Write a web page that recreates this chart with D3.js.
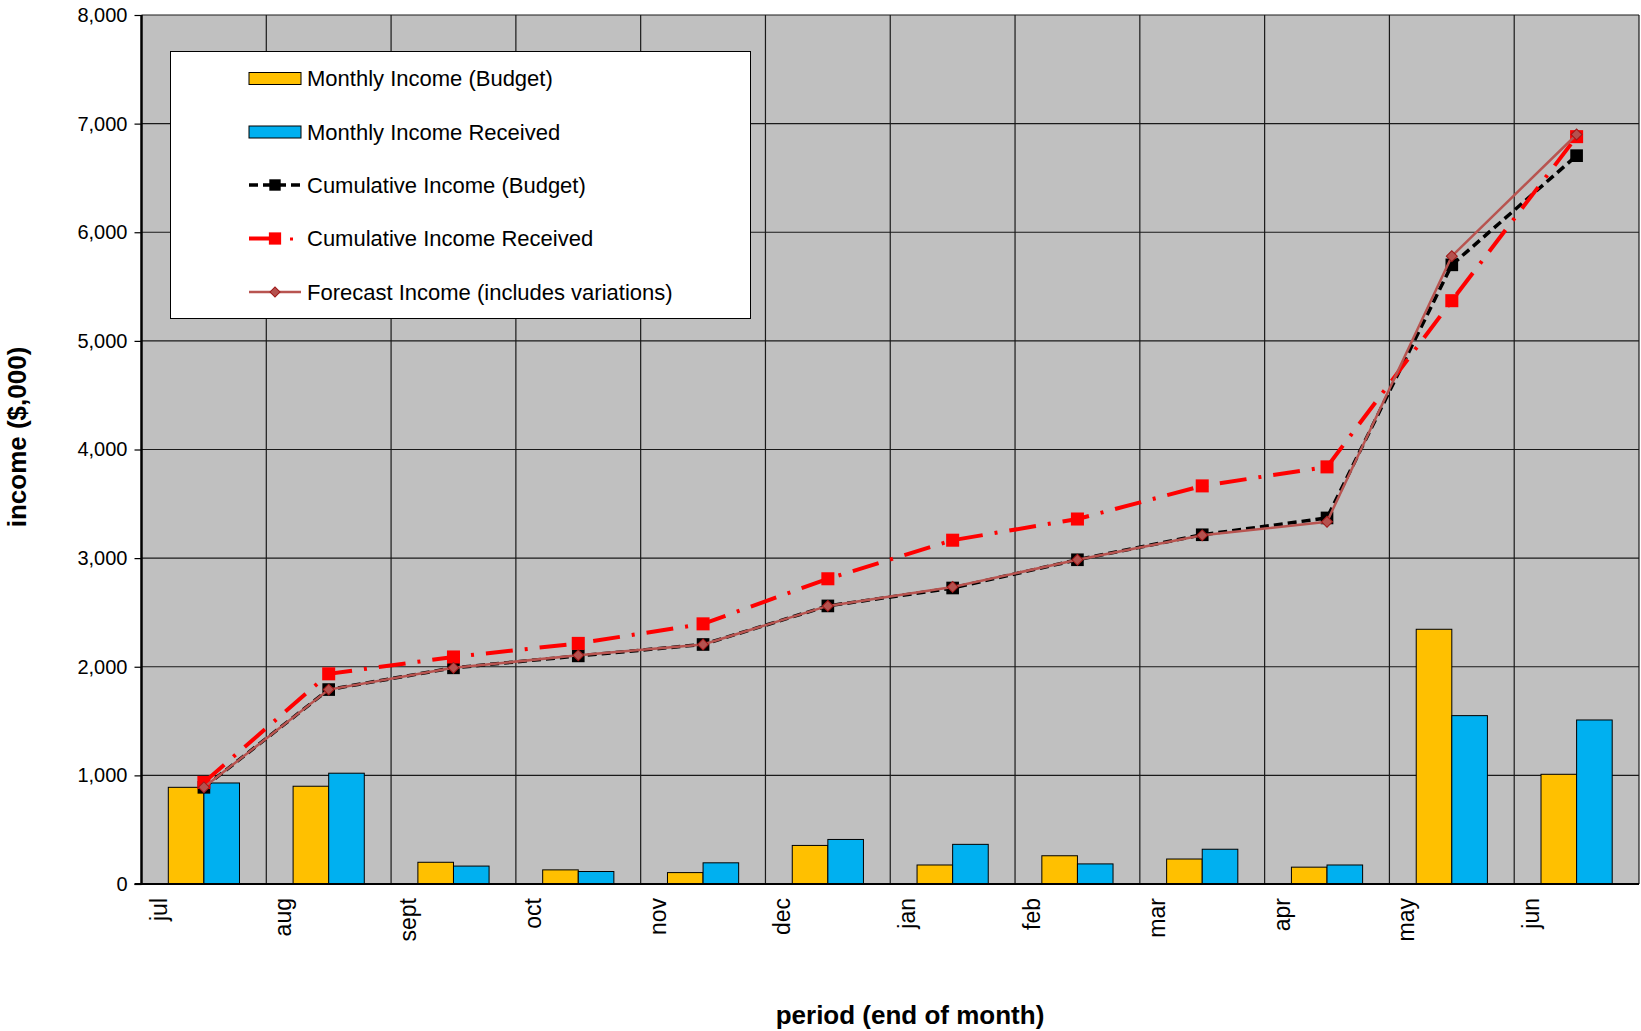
<!DOCTYPE html>
<html>
<head>
<meta charset="utf-8">
<script src="https://cdn.jsdelivr.net/npm/d3@7"></script>
<style>
  body { margin: 0; background: #fff; }
  svg text { font-family: "Liberation Sans", Arial, sans-serif; fill: #000; }
</style>
</head>
<body>
<div id="chart"></div>
<script>
// chart values, in $,000
var months = ["jul", "aug", "sept", "oct", "nov", "dec", "jan", "feb", "mar", "apr", "may", "jun"];
var monthlyBudget = [890, 900, 200, 130, 105, 355, 175, 260, 230, 155, 2345, 1010];
var monthlyReceived = [930, 1020, 165, 115, 195, 410, 365, 185, 320, 175, 1550, 1510];
var cumBudget = [890, 1790, 1990, 2100, 2205, 2560, 2725, 2985, 3215, 3370, 5700, 6705];
var cumReceived = [935, 1935, 2090, 2215, 2395, 2810, 3165, 3360, 3665, 3840, 5370, 6880];
var forecast = [890, 1790, 1990, 2105, 2205, 2560, 2735, 2985, 3210, 3335, 5780, 6900];
var yTicks = [0, 1000, 2000, 3000, 4000, 5000, 6000, 7000, 8000];
var legendLabels = ["Monthly Income (Budget)", "Monthly Income Received", "Cumulative Income (Budget)",
                    "Cumulative Income Received", "Forecast Income (includes variations)"];

var width = 1641, height = 1031;
var pLeft = 141.5, pRight = 1639, pTop = 15, pBottom = 884;

var svg = d3.select("#chart").append("svg")
    .attr("width", width)
    .attr("height", height);

var x = d3.scaleBand().domain(months).range([pLeft, pRight]).padding(0);
var xSub = d3.scaleBand().domain(["budget", "received"])
    .range([0, x.bandwidth()]).paddingInner(0).paddingOuter(0.753);
var y = d3.scaleLinear().domain([0, 8000]).range([pBottom, pTop]);
var cx = function(d, i) { return x(months[i]) + x.bandwidth() / 2; };

// plot background
svg.append("rect")
    .attr("x", pLeft).attr("y", pTop)
    .attr("width", pRight - pLeft).attr("height", pBottom - pTop)
    .attr("fill", "#c0c0c0");

// grid
var grid = svg.append("g").attr("stroke", "#1a1a1a").attr("stroke-width", 1.2);
grid.selectAll(".hg").data(yTicks.slice(1)).enter().append("line")
    .attr("x1", pLeft).attr("x2", pRight)
    .attr("y1", d => y(d)).attr("y2", d => y(d));
grid.selectAll(".vg").data(months.slice(1)).enter().append("line")
    .attr("x1", d => x(d)).attr("x2", d => x(d))
    .attr("y1", pTop).attr("y2", pBottom);
grid.append("line").attr("x1", pRight).attr("x2", pRight).attr("y1", pTop).attr("y2", pBottom);

// bars
var bars = svg.append("g").attr("stroke", "#000").attr("stroke-width", 1);
bars.selectAll(".b").data(monthlyBudget).enter().append("rect")
    .attr("x", (d, i) => x(months[i]) + xSub("budget"))
    .attr("width", xSub.bandwidth())
    .attr("y", d => y(d)).attr("height", d => pBottom - y(d))
    .attr("fill", "#ffc000");
bars.selectAll(".r").data(monthlyReceived).enter().append("rect")
    .attr("x", (d, i) => x(months[i]) + xSub("received"))
    .attr("width", xSub.bandwidth())
    .attr("y", d => y(d)).attr("height", d => pBottom - y(d))
    .attr("fill", "#00b0f0");

// y axis
var yAxis = svg.append("g")
    .attr("transform", "translate(" + pLeft + ",0)")
    .call(d3.axisLeft(y).tickValues(yTicks).tickFormat(d3.format(",")).tickSize(7).tickPadding(7));
yAxis.select(".domain").attr("stroke", "#000").attr("stroke-width", 2.5).attr("d", "M0," + pTop + "V" + pBottom);
yAxis.selectAll(".tick line").attr("stroke", "#000").attr("stroke-width", 1.2);
yAxis.selectAll("text").attr("font-size", 20).attr("font-family", "Liberation Sans, Arial");

// x axis
svg.append("line").attr("x1", pLeft - 7).attr("x2", pRight)
    .attr("y1", pBottom).attr("y2", pBottom)
    .attr("stroke", "#000").attr("stroke-width", 2);
svg.append("g").selectAll("text").data(months).enter().append("text")
    .attr("transform", d => "translate(" + (x(d) + 17) + "," + (pBottom + 14) + ") rotate(-90)")
    .attr("text-anchor", "end")
    .attr("dominant-baseline", "central")
    .attr("font-size", 23)
    .text(d => d);

// axis titles
svg.append("text")
    .attr("transform", "translate(17,437) rotate(-90)")
    .attr("text-anchor", "middle")
    .attr("dominant-baseline", "central")
    .attr("font-size", 26).attr("font-weight", "bold")
    .text("income ($,000)");
svg.append("text")
    .attr("x", 910).attr("y", 1024)
    .attr("text-anchor", "middle")
    .attr("font-size", 26).attr("font-weight", "bold")
    .text("period (end of month)");

// lines
var line = d3.line().x(cx).y(d => y(d));
var square = d3.symbol().type(d3.symbolSquare);

svg.append("path").datum(cumBudget)
    .attr("d", line).attr("fill", "none")
    .attr("stroke", "#000").attr("stroke-width", 3.5).attr("stroke-dasharray", "9,5");
svg.append("g").selectAll("path").data(cumBudget).enter().append("path")
    .attr("d", square.size(160))
    .attr("transform", (d, i) => "translate(" + cx(d, i) + "," + y(d) + ")")
    .attr("fill", "#000");

svg.append("path").datum(cumReceived)
    .attr("d", line).attr("fill", "none")
    .attr("stroke", "#ff0000").attr("stroke-width", 4).attr("stroke-dasharray", "27,12,3,12");
svg.append("g").selectAll("path").data(cumReceived).enter().append("path")
    .attr("d", square.size(170))
    .attr("transform", (d, i) => "translate(" + cx(d, i) + "," + y(d) + ")")
    .attr("fill", "#ff0000");

svg.append("path").datum(forecast)
    .attr("d", line).attr("fill", "none")
    .attr("stroke", "#b85450").attr("stroke-width", 2.5);
svg.append("g").selectAll("path").data(forecast).enter().append("path")
    .attr("d", square.size(60))
    .attr("transform", (d, i) => "translate(" + cx(d, i) + "," + y(d) + ") rotate(45)")
    .attr("fill", "#b5514e").attr("stroke", "#a01818").attr("stroke-width", 1);

// legend
var lg = svg.append("g");
lg.append("rect")
    .attr("x", 170.5).attr("y", 51.5).attr("width", 580).attr("height", 267)
    .attr("fill", "#fff").attr("stroke", "#000").attr("stroke-width", 1);
var rowY = [78.5, 132, 185, 238.5, 292];
var sx0 = 249, sx1 = 301, smid = 275;

lg.append("rect").attr("x", sx0).attr("y", rowY[0] - 6).attr("width", sx1 - sx0).attr("height", 12)
    .attr("fill", "#ffc000").attr("stroke", "#000").attr("stroke-width", 1);
lg.append("rect").attr("x", sx0).attr("y", rowY[1] - 6).attr("width", sx1 - sx0).attr("height", 12)
    .attr("fill", "#00b0f0").attr("stroke", "#000").attr("stroke-width", 1);
lg.append("line").attr("x1", sx0).attr("x2", sx1).attr("y1", rowY[2]).attr("y2", rowY[2])
    .attr("stroke", "#000").attr("stroke-width", 3.5).attr("stroke-dasharray", "9,5");
lg.append("path").attr("d", square.size(130)).attr("transform", "translate(" + smid + "," + rowY[2] + ")").attr("fill", "#000");
lg.append("line").attr("x1", sx0).attr("x2", smid).attr("y1", rowY[3]).attr("y2", rowY[3])
    .attr("stroke", "#ff0000").attr("stroke-width", 4);
lg.append("rect").attr("x", 290).attr("y", rowY[3] - 1).attr("width", 3).attr("height", 3).attr("fill", "#ff0000");
lg.append("path").attr("d", square.size(150)).attr("transform", "translate(" + smid + "," + rowY[3] + ")").attr("fill", "#ff0000");
lg.append("line").attr("x1", sx0).attr("x2", sx1).attr("y1", rowY[4]).attr("y2", rowY[4])
    .attr("stroke", "#b85450").attr("stroke-width", 2.5);
lg.append("path").attr("d", square.size(50)).attr("transform", "translate(" + smid + "," + rowY[4] + ") rotate(45)")
    .attr("fill", "#b5514e").attr("stroke", "#a01818").attr("stroke-width", 1);

lg.selectAll(".lt").data(legendLabels).enter().append("text")
    .attr("x", 307).attr("y", (d, i) => rowY[i])
    .attr("dominant-baseline", "central")
    .attr("font-size", 22)
    .text(d => d);
</script>
</body>
</html>
